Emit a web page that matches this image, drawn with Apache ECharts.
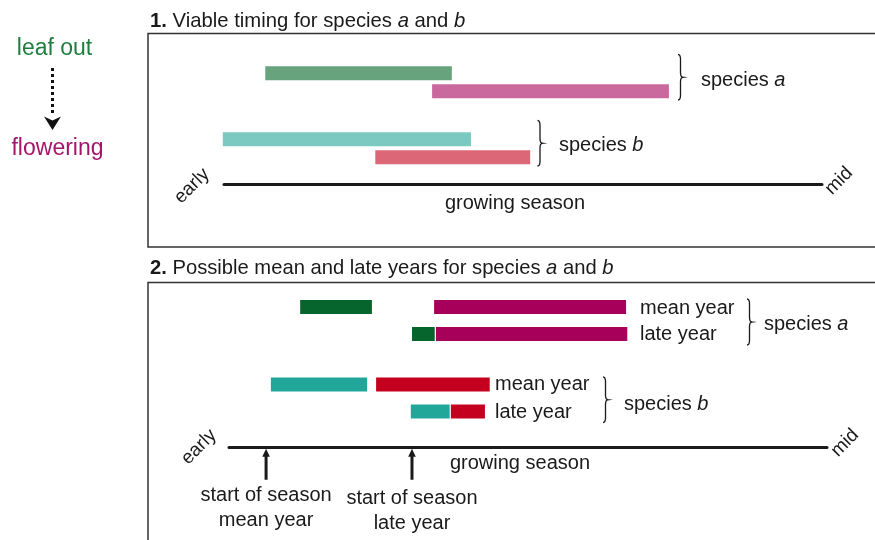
<!DOCTYPE html>
<html><head><meta charset="utf-8">
<script src="https://cdn.jsdelivr.net/npm/echarts@6/dist/echarts.min.js"></script>
<style>html,body{margin:0;padding:0;background:#fff}#c{width:875px;height:540px}</style>
</head><body><div id="c"></div>
<script>
// ---- data (season position: 0 = early, 100 = mid) ----
const species = ['species a', 'species b'];
// panel 1: viable timing  [start, end] per species
const viableLeafOut   = [[6.9, 38.1], [-0.2, 41.3]];
const viableFlowering = [[34.8, 74.4], [25.3, 51.2]];
// panel 2: mean and late years  [start, end] per species
const meanLeafOut   = [[11.9, 23.9], [7.0, 23.1]];
const meanFlowering = [[34.3, 66.4], [24.6, 43.6]];
const lateLeafOut   = [[30.6, 34.4], [30.4, 36.9]];
const lateFlowering = [[34.6, 66.6], [37.1, 42.8]];
const seasonStart = [6.2, 30.6];
const seasonStartLabels = ['start of season\nmean year', 'start of season\nlate year'];
const yearLabels = ['mean year', 'late year'];

const FONT = '"Liberation Sans", Arial, Helvetica, sans-serif';
const INK = '#1a1a1a';

// one bar per species (index s) for a given range array
function rangeSeries(name, ranges, s, grid, row, color, frac) {
  return {
    type: 'custom', name, xAxisIndex: grid, yAxisIndex: grid,
    itemStyle: { color },
    data: [[s, ranges[s][0], ranges[s][1]]],
    encode: { x: [1, 2], y: 0 },
    renderItem: (params, api) => {
      const a = api.coord([api.value(1), api.value(0)]);
      const b = api.coord([api.value(2), api.value(0)]);
      const band = api.size([0, 1])[1];
      const h = 14;
      const yc = a[1] + row * frac * band;
      return { type: 'rect', shape: { x: a[0], y: yc - h / 2, width: b[0] - a[0], height: h },
               style: { fill: api.visual('color') } };
    }
  };
}

function T(x, y, text, o) {
  o = o || {};
  return {
    type: 'text', x, y, rotation: o.rot || 0, z: 10,
    style: {
      text, x: 0, y: 0,
      fill: o.color || INK,
      fontSize: o.size || 20, fontFamily: FONT,
      align: o.align || 'left', verticalAlign: 'middle',
      textAlign: o.align || 'left', textVerticalAlign: 'middle',
      rich: o.rich
    }
  };
}

function richT(size) {
  return {
    b: { fontWeight: 'bold', fontSize: size, fontFamily: FONT, fill: INK },
    i: { fontStyle: 'italic', fontSize: size, fontFamily: FONT, fill: INK },
    n: { fontSize: size, fontFamily: FONT, fill: INK }
  };
}

function brace(x0, y1, y2) {
  const w = 5, r = 5, ym = (y1 + y2) / 2;
  const pts = [];
  const q = (p0, c, p1) => { for (let t = 0; t <= 1.0001; t += 0.125) {
    pts.push([(1-t)*(1-t)*p0[0] + 2*(1-t)*t*c[0] + t*t*p1[0], (1-t)*(1-t)*p0[1] + 2*(1-t)*t*c[1] + t*t*p1[1]]); } };
  const xm = x0 + w / 2;
  q([x0, y1], [xm, y1], [xm, y1 + r]);
  q([xm, ym - r], [xm, ym], [x0 + w, ym]);
  q([x0 + w, ym], [xm, ym], [xm, ym + r]);
  q([xm, y2 - r], [xm, y2], [x0, y2]);
  return { type: 'polyline', z: 10, shape: { points: pts }, style: { stroke: INK, lineWidth: 1.3, fill: null } };
}

const xAxisBase = {
  type: 'value', min: 0, max: 100, position: 'bottom',
  axisLine: { show: true, onZero: false, lineStyle: { color: INK, width: 3 } },
  axisTick: { show: false }, axisLabel: { show: false }, splitLine: { show: false }
};
const yAxisBase = {
  type: 'category', data: species, inverse: true,
  axisLine: { show: false }, axisTick: { show: false }, axisLabel: { show: false }, splitLine: { show: false }
};

const F1 = 9 / 66, F2 = 13.5 / 77.5;

const series = [
  rangeSeries('viable leaf out a', viableLeafOut, 0, 0, -1, '#67A37D', F1),
  rangeSeries('viable flowering a', viableFlowering, 0, 0, 1, '#C9699E', F1),
  rangeSeries('viable leaf out b', viableLeafOut, 1, 0, -1, '#7CC9C1', F1),
  rangeSeries('viable flowering b', viableFlowering, 1, 0, 1, '#DC6877', F1),
  rangeSeries('mean leaf out a', meanLeafOut, 0, 1, -1, '#06642D', F2),
  rangeSeries('mean flowering a', meanFlowering, 0, 1, -1, '#A6005B', F2),
  rangeSeries('late leaf out a', lateLeafOut, 0, 1, 1, '#06642D', F2),
  rangeSeries('late flowering a', lateFlowering, 0, 1, 1, '#A6005B', F2),
  rangeSeries('mean leaf out b', meanLeafOut, 1, 1, -1, '#20A799', F2),
  rangeSeries('mean flowering b', meanFlowering, 1, 1, -1, '#C4001E', F2),
  rangeSeries('late leaf out b', lateLeafOut, 1, 1, 1, '#20A799', F2),
  rangeSeries('late flowering b', lateFlowering, 1, 1, 1, '#C4001E', F2),
  {
    type: 'custom', name: 'start of season', xAxisIndex: 1, yAxisIndex: 1,
    data: seasonStart.map((v, i) => [v, 0, i]), encode: { x: 0, y: 1 },
    renderItem: (params, api) => {
      const p = api.coord([api.value(0), 0]);
      const cs = params.coordSys;
      const ya = cs.y + cs.height + 10;
      const x = p[0];
      const idx = api.value(2);
      return { type: 'group', children: [
        { type: 'line', shape: { x1: x, y1: ya + 33, x2: x, y2: ya + 8 }, style: { stroke: INK, lineWidth: 3 } },
        { type: 'polygon', shape: { points: [[x, ya + 2], [x - 3.8, ya + 10], [x + 3.8, ya + 10]] }, style: { fill: INK } },
        { type: 'text', style: { text: seasonStartLabels[idx], x: x, y: ya + 36 + idx * 3,
            fill: INK, fontSize: 20, fontFamily: FONT, lineHeight: 25,
            align: 'center', verticalAlign: 'top', textAlign: 'center', textVerticalAlign: 'top' } }
      ] };
    }
  }
];

const option = {
  animation: false,
  backgroundColor: '#fff',
  grid: [
    { left: 224, width: 598, top: 49.25, height: 132 },
    { left: 229, width: 598, top: 281.75, height: 155 }
  ],
  xAxis: [ Object.assign({}, xAxisBase, { gridIndex: 0, offset: 2.5 }),
           Object.assign({}, xAxisBase, { gridIndex: 1, offset: 10 }) ],
  yAxis: [ Object.assign({}, yAxisBase, { gridIndex: 0 }),
           Object.assign({}, yAxisBase, { gridIndex: 1 }) ],
  series,
  graphic: [
    // panel boxes
    { type: 'rect', shape: { x: 148, y: 33.5, width: 740, height: 213.5 }, style: { fill: null, stroke: '#333', lineWidth: 1.5 } },
    { type: 'rect', shape: { x: 148, y: 282.5, width: 740, height: 300 }, style: { fill: null, stroke: '#333', lineWidth: 1.5 } },
    // titles
    T(150, 21, '{b|1.}{n| Viable timing for species }{i|a}{n| and }{i|b}', { rich: richT(20.3) }),
    T(150, 268, '{b|2.}{n| Possible mean and late years for species }{i|a}{n| and }{i|b}', { rich: richT(20.2) }),
    // key
    T(54.5, 48.5, 'leaf out', { color: '#1E7E3E', size: 23, align: 'center' }),
    T(57.5, 148.5, 'flowering', { color: '#A5166B', size: 23, align: 'center' }),
    { type: 'line', shape: { x1: 52.5, y1: 68, x2: 52.5, y2: 116 }, style: { stroke: '#111', lineWidth: 3, lineDash: [3, 3] } },
    { type: 'polygon', shape: { points: [[44, 116.5], [52.5, 120.5], [61, 116.5], [52.5, 130]] }, style: { fill: '#111' } },
    // panel 1 annotations
    T(192, 186, 'early', { size: 19, align: 'center', rot: Math.PI / 4 }),
    T(839, 181, 'mid', { size: 19, align: 'center', rot: Math.PI / 4 }),
    T(515, 203, 'growing season', { align: 'center' }),
    brace(678, 54.5, 100),
    T(701, 80.5, '{n|species }{i|a}', { rich: richT(20) }),
    brace(537.5, 120.5, 166),
    T(559, 145.5, '{n|species }{i|b}', { rich: richT(20) }),
    // panel 2 annotations
    T(199, 447, 'early', { size: 19, align: 'center', rot: Math.PI / 4 }),
    T(845, 443, 'mid', { size: 19, align: 'center', rot: Math.PI / 4 }),
    T(520, 463.5, 'growing season', { align: 'center' }),
    T(640, 308.5, yearLabels[0]),
    T(640, 334.5, yearLabels[1]),
    brace(747, 299, 345),
    T(764, 324.5, '{n|species }{i|a}', { rich: richT(20) }),
    T(495, 384, yearLabels[0]),
    T(495, 412.5, yearLabels[1]),
    brace(603, 377, 422.5),
    T(624, 404.5, '{n|species }{i|b}', { rich: richT(20) })
  ]
};

const chart = echarts.init(document.getElementById('c'), null, { renderer: 'canvas' });
chart.setOption(option);
</script>
</body></html>
